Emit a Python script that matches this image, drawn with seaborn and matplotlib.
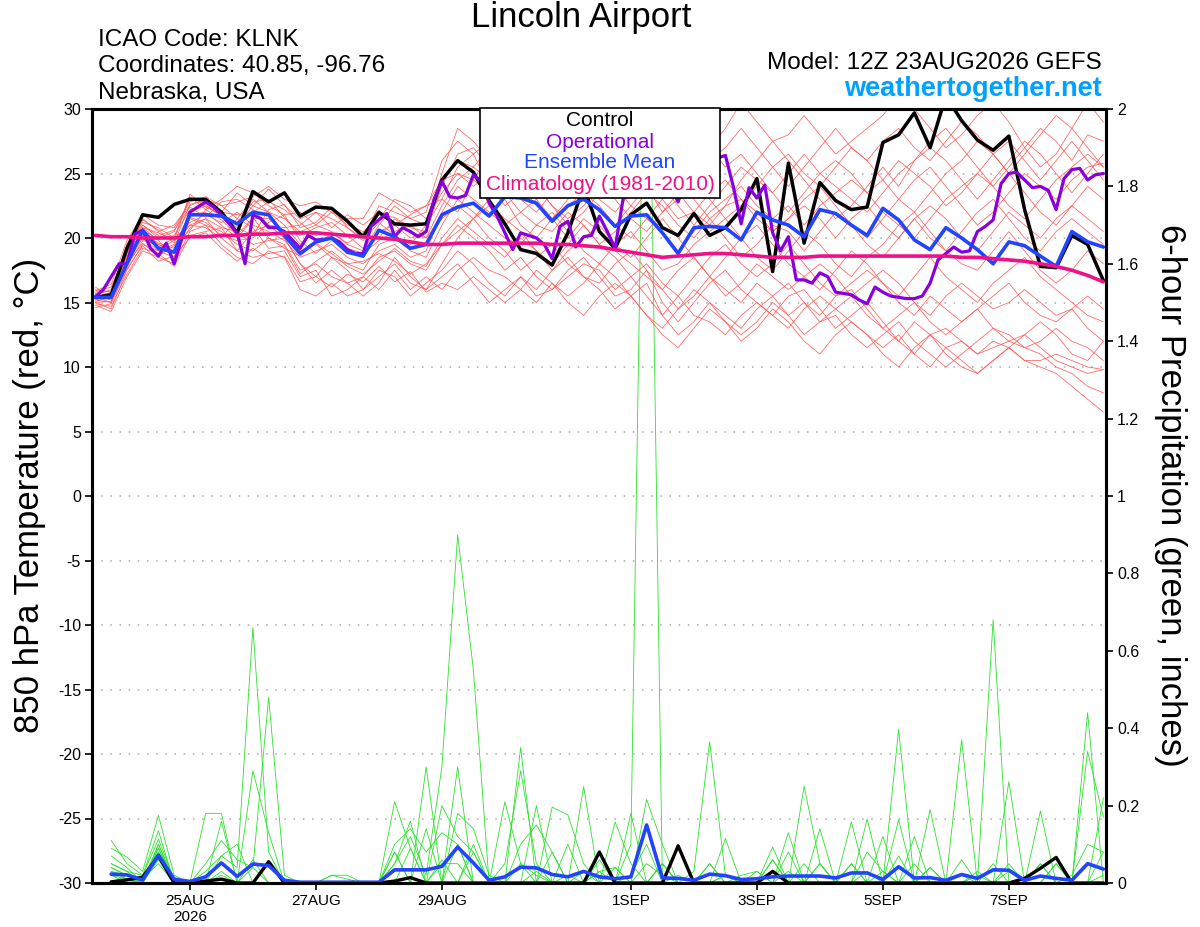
import numpy as np
import pandas as pd
import seaborn as sns
import matplotlib.pyplot as plt
from matplotlib.patches import Rectangle
from matplotlib.ticker import FuncFormatter

# forecast hours from 12Z 23AUG2026
hours = list(range(0, 385, 6))
oper_hours = list(range(0, 385, 3))
precip_hours = hours[1:]

date_ticks = [36, 84, 132, 204, 252, 300, 348]
date_labels = ['25AUG\n2026', '27AUG', '29AUG', '1SEP', '3SEP', '5SEP', '7SEP']

# 850 hPa temperature (C)
control_t = [15.4, 15.6, 19.2, 21.8, 21.6, 22.6, 23.0, 23.0, 22.0, 20.4,
             23.6, 22.8, 23.5, 21.7, 22.4, 22.3, 21.3, 20.1, 22.0, 21.1,
             21.0, 21.1, 24.5, 26.0, 25.1, 22.9, 21.1, 19.1, 18.8, 17.9,
             20.4, 24.0, 20.5, 19.2, 21.8, 22.7, 20.8, 20.2, 21.9, 20.2,
             20.8, 22.2, 24.6, 17.4, 25.8, 19.6, 24.3, 22.9, 22.2, 22.4,
             27.4, 28.0, 29.7, 27.0, 31.0, 29.1, 27.6, 26.8, 27.9, 22.2,
             17.8, 17.7, 20.2, 19.5, 16.7]

oper_t = [15.45, 16.0, 17.0, 18.0, 18.0, 20.3, 20.6, 19.2, 18.6, 19.6,
          18.0, 20.0, 22.0, 22.4, 22.8, 22.4, 21.8, 21.1, 20.4, 18.0,
          21.8, 21.5, 20.8, 20.8, 20.5, 19.85, 19.2, 20.2, 19.85, 19.9,
          20.0, 19.7, 19.1, 18.8, 18.8, 20.9, 21.4, 21.9, 20.1, 20.8,
          20.5, 20.1, 20.5, 23.0, 24.4, 23.2, 23.1, 23.3, 24.9, 24.4,
          22.7, 21.7, 20.4, 19.1, 20.4, 20.2, 20.0, 19.5, 18.4, 20.9,
          21.3, 19.3, 20.1, 20.2, 21.7, 20.5, 19.2, 23.0, 24.5, 25.5,
          25.0, 25.5, 24.5, 24.0, 22.8, 24.5, 25.5, 26.0, 26.2, 26.2,
          26.4, 24.0, 21.1, 23.9, 23.1, 24.1, 20.4, 19.0, 20.1, 16.75,
          16.75, 16.5, 17.3, 17.0, 15.8, 15.7, 15.6, 15.2, 14.9, 16.2,
          15.8, 15.5, 15.4, 15.3, 15.3, 15.5, 16.5, 18.3, 18.8, 19.3,
          18.9, 19.0, 20.5, 20.9, 21.4, 24.2, 25.0, 25.1, 24.5, 23.9,
          24.0, 23.7, 22.2, 24.6, 25.3, 25.4, 24.5, 24.9, 25.0]

mean_t = [15.4, 15.4, 18.0, 20.6, 19.2, 18.9, 21.8, 21.8, 21.7, 21.1,
          22.0, 21.8, 20.2, 18.8, 19.7, 20.0, 18.9, 18.6, 20.6, 20.1,
          19.2, 19.5, 21.8, 22.4, 22.7, 21.7, 23.2, 23.1, 22.7, 21.3,
          22.5, 23.0, 22.2, 20.9, 21.7, 21.8, 20.4, 18.8, 20.8, 20.9,
          20.8, 19.85, 22.0, 21.4, 21.0, 20.1, 22.2, 21.9, 21.0, 20.2,
          22.3, 21.4, 19.85, 19.1, 20.8, 20.0, 19.1, 18.0, 19.7, 19.4,
          18.6, 17.8, 20.5, 19.7, 19.3]

clim_t = [20.2, 20.1, 20.1, 20.0, 20.0, 20.0, 20.1, 20.1, 20.2, 20.2,
          20.3, 20.3, 20.4, 20.4, 20.4, 20.3, 20.2, 20.1, 20.0, 19.9,
          19.7, 19.5, 19.5, 19.6, 19.6, 19.6, 19.6, 19.6, 19.6, 19.5,
          19.5, 19.4, 19.3, 19.1, 18.9, 18.7, 18.5, 18.6, 18.7, 18.8,
          18.8, 18.7, 18.6, 18.5, 18.5, 18.5, 18.6, 18.6, 18.6, 18.6,
          18.6, 18.6, 18.6, 18.6, 18.6, 18.5, 18.5, 18.4, 18.3, 18.2,
          18.0, 17.8, 17.5, 17.1, 16.6]

members_t = [
    [15.2, 15.0, 18.5, 20.5, 19.5, 19.0, 22.0, 22.5, 21.8, 21.0,
     22.5, 22.0, 21.0, 19.5, 20.5, 20.0, 19.0, 18.5, 20.5, 21.0,
     20.0, 20.5, 24.0, 26.5, 27.0, 25.5, 23.0, 21.0, 20.0, 21.5,
     22.5, 23.5, 22.0, 21.0, 22.5, 24.0, 23.0, 21.5, 22.0, 23.5,
     24.5, 23.0, 22.0, 20.5, 21.5, 23.0, 24.0, 22.5, 21.0, 20.0,
     21.5, 23.0, 24.5, 25.5, 24.0, 22.5, 21.0, 22.0, 23.5, 25.0,
     24.0, 23.0, 24.5, 25.5, 25.8],
    [15.8, 16.2, 19.0, 21.0, 20.0, 20.5, 23.0, 22.8, 22.0, 23.5,
     22.5, 23.8, 22.5, 21.5, 22.0, 21.5, 20.8, 20.0, 22.5, 22.0,
     21.5, 21.0, 25.0, 28.5, 27.5, 26.0, 27.0, 25.5, 24.5, 26.0,
     27.5, 28.5, 27.0, 25.0, 26.0, 27.5, 29.0, 28.0, 26.5, 27.0,
     28.5, 30.5, 29.0, 27.5, 28.0, 29.5, 28.0, 26.5, 27.5, 28.5,
     29.5, 31.0, 30.0, 28.5, 27.0, 28.0, 29.5, 30.5, 29.0, 27.0,
     25.5, 26.5, 28.5, 30.5, 29.0],
    [15.0, 14.5, 17.5, 19.5, 19.0, 18.5, 21.5, 21.0, 20.5, 19.5,
     19.0, 20.0, 19.5, 17.5, 18.0, 17.0, 16.5, 17.0, 18.5, 19.0,
     18.0, 17.5, 19.5, 21.0, 20.0, 19.0, 17.5, 18.5, 17.0, 16.0,
     17.5, 18.5, 17.0, 15.5, 16.0, 17.5, 16.0, 14.5, 15.5, 17.0,
     16.0, 15.0, 16.5, 15.5, 14.0, 15.0, 13.5, 14.5, 15.5, 14.0,
     13.0, 12.0, 13.5, 12.5, 11.5, 12.0, 11.0, 12.0, 11.5, 10.5,
     10.0, 9.5, 8.5, 7.5, 6.5],
    [15.5, 15.2, 18.0, 20.0, 19.0, 19.5, 21.0, 21.5, 20.0, 19.0,
     20.5, 21.0, 20.0, 18.0, 17.0, 18.5, 17.5, 16.0, 17.0, 18.0,
     16.5, 16.0, 18.0, 20.0, 21.5, 20.0, 19.0, 17.5, 18.5, 19.5,
     18.0, 17.0, 16.5, 18.0, 19.0, 17.5, 15.0, 13.5, 15.0, 16.5,
     17.5, 16.0, 15.0, 14.0, 15.5, 16.0, 14.5, 13.0, 14.0, 15.0,
     13.5, 12.0, 11.0, 12.5, 13.0, 12.0, 11.0, 11.5, 12.0, 11.5,
     11.0, 10.0, 9.5, 8.5, 8.0],
    [16.0, 15.8, 19.5, 21.5, 20.5, 21.0, 22.5, 23.0, 22.5, 21.5,
     23.0, 22.0, 21.5, 20.5, 21.0, 20.5, 19.5, 19.0, 21.0, 22.5,
     21.5, 22.0, 26.0, 27.5, 26.5, 24.0, 22.5, 23.5, 24.0, 22.5,
     21.0, 22.0, 23.5, 24.5, 25.5, 24.0, 22.0, 23.0, 24.5, 23.0,
     21.5, 22.5, 24.0, 25.5, 26.5, 25.0, 24.0, 25.5, 27.0, 26.0,
     24.5, 23.0, 22.0, 23.5, 25.0, 26.0, 27.5, 26.5, 25.0, 23.5,
     22.0, 21.0, 22.5, 24.0, 23.0],
    [15.3, 15.6, 18.8, 20.8, 19.8, 18.5, 21.8, 22.0, 21.0, 20.0,
     21.5, 21.5, 20.5, 19.0, 19.5, 18.5, 18.0, 17.5, 19.5, 20.0,
     19.0, 18.5, 21.0, 23.0, 22.0, 21.0, 20.0, 19.5, 21.0, 22.0,
     20.5, 19.0, 18.0, 19.5, 20.5, 19.0, 17.5, 18.0, 19.5, 20.5,
     21.5, 20.0, 18.5, 17.5, 19.0, 20.5, 19.5, 18.0, 17.0, 18.5,
     19.5, 21.0, 22.0, 20.5, 19.0, 18.0, 17.5, 19.0, 20.5, 19.0,
     17.5, 16.5, 17.5, 19.0, 18.0],
    [14.8, 14.3, 17.0, 19.0, 18.5, 18.0, 20.5, 21.0, 19.5, 18.5,
     18.0, 19.0, 18.5, 16.0, 15.5, 16.5, 15.5, 16.0, 17.5, 17.0,
     15.5, 16.5, 17.5, 19.0, 18.0, 16.5, 15.5, 17.0, 16.0, 17.5,
     18.5, 17.0, 16.0, 14.5, 15.5, 16.5, 14.0, 12.5, 13.5, 15.0,
     14.0, 13.0, 14.5, 15.5, 16.5, 15.0, 14.0, 15.5, 16.0, 14.5,
     13.0, 14.0, 15.0, 13.5, 12.5, 13.5, 14.5, 13.0, 12.0, 12.5,
     13.5, 12.5, 11.0, 10.5, 12.0],
    [15.6, 16.0, 19.2, 21.2, 20.8, 20.0, 23.2, 22.2, 23.0, 24.0,
     23.5, 22.5, 21.8, 22.0, 21.0, 22.0, 21.0, 20.5, 21.5, 23.0,
     22.5, 21.5, 23.5, 25.0, 24.0, 25.0, 26.0, 24.5, 23.0, 24.5,
     25.5, 26.5, 28.0, 26.5, 25.0, 26.0, 27.5, 29.0, 27.5, 26.0,
     27.0, 28.5, 27.0, 25.5, 24.0, 25.5, 27.0, 28.5, 27.0, 26.0,
     27.5, 28.5, 27.0, 26.0, 27.5, 29.0, 28.0, 26.5, 25.0, 26.5,
     28.0, 29.5, 28.5, 27.0, 25.5],
    [15.1, 15.4, 18.2, 20.2, 19.2, 19.8, 21.2, 21.8, 21.2, 22.0,
     21.0, 20.5, 19.8, 18.5, 19.0, 19.5, 18.5, 18.0, 19.0, 19.5,
     18.5, 19.0, 22.0, 24.0, 23.0, 22.0, 21.0, 22.0, 23.0, 21.5,
     20.0, 21.5, 20.5, 19.0, 18.0, 17.0, 16.0, 17.5, 18.5, 17.0,
     15.5, 16.5, 18.0, 17.0, 16.0, 17.0, 18.0, 17.0, 15.5, 16.5,
     17.5, 16.5, 15.0, 14.0, 15.5, 16.5, 15.5, 14.5, 15.0, 16.0,
     15.0, 14.0, 14.5, 15.5, 14.5],
    [15.9, 16.4, 19.8, 21.8, 21.0, 20.8, 22.8, 23.2, 22.5, 22.8,
     23.2, 24.0, 23.0, 22.5, 22.8, 22.0, 21.5, 21.5, 23.5, 22.8,
     22.0, 22.5, 24.5, 26.0, 25.5, 27.0, 25.5, 26.0, 25.0, 24.0,
     25.5, 24.5, 23.0, 22.0, 23.5, 25.0, 24.0, 22.5, 21.0, 22.5,
     24.0, 25.5, 24.5, 23.5, 25.0, 26.5, 25.0, 24.0, 23.0, 22.0,
     23.5, 25.0, 26.0, 27.0, 26.0, 24.5, 23.0, 24.5, 26.0, 27.5,
     26.5, 25.0, 23.5, 25.0, 26.5],
    [15.4, 15.0, 17.8, 19.8, 19.5, 18.8, 20.8, 21.5, 20.8, 20.5,
     19.5, 19.8, 20.0, 18.0, 16.5, 17.5, 16.5, 15.5, 16.5, 18.5,
     17.0, 16.0, 17.0, 18.0, 16.5, 15.0, 16.0, 17.0, 15.5, 16.0,
     17.0, 18.0, 17.5, 16.0, 17.0, 18.0, 16.5, 15.5, 14.0, 13.5,
     12.5, 14.0, 15.0, 14.0, 13.0, 14.5, 15.5, 14.5, 13.5, 12.5,
     11.5, 12.5, 11.0, 10.0, 11.5, 10.5, 9.5, 10.5, 11.5, 10.5,
     10.5, 11.0, 10.5, 10.0, 9.8],
    [15.7, 15.9, 18.6, 20.6, 19.9, 20.2, 22.2, 22.6, 21.6, 21.2,
     22.8, 23.0, 21.6, 20.2, 20.8, 21.2, 20.2, 19.2, 20.0, 21.5,
     20.5, 20.0, 22.5, 24.5, 25.5, 24.5, 23.5, 22.0, 21.0, 20.5,
     22.0, 21.0, 19.5, 20.5, 22.0, 23.5, 22.5, 21.0, 20.0, 21.5,
     20.0, 18.5, 19.5, 21.0, 20.5, 19.0, 20.5, 22.0, 21.0, 19.5,
     18.5, 20.0, 21.5, 20.0, 19.0, 20.5, 22.0, 23.0, 21.5, 20.0,
     19.0, 20.5, 21.5, 20.5, 19.5],
    [15.2, 15.5, 18.4, 20.4, 19.6, 19.2, 21.6, 21.2, 20.2, 19.8,
     20.0, 21.2, 21.8, 19.8, 18.8, 19.8, 19.2, 18.8, 19.8, 20.5,
     21.0, 20.0, 21.5, 22.5, 21.5, 23.0, 24.0, 23.0, 22.0, 23.5,
     24.5, 23.5, 22.5, 21.0, 20.0, 21.5, 20.5, 19.0, 20.5, 22.0,
     23.0, 24.0, 22.5, 21.5, 22.5, 21.0, 22.5, 23.5, 24.5, 23.5,
     22.0, 21.0, 20.0, 21.5, 23.0, 24.0, 25.0, 24.0, 22.5, 21.5,
     23.0, 24.5, 25.5, 26.5, 25.5],
    [14.9, 14.7, 17.2, 19.2, 18.8, 17.8, 20.2, 20.5, 20.8, 19.0,
     18.5, 18.8, 19.0, 17.0, 17.5, 15.5, 16.0, 17.0, 16.0, 17.5,
     16.0, 17.0, 16.0, 17.5, 18.5, 17.5, 17.0, 16.0, 15.0, 16.5,
     15.5, 16.5, 18.0, 17.0, 15.5, 14.0, 13.0, 14.5, 16.0, 15.0,
     13.5, 12.5, 13.5, 15.0, 14.0, 12.5, 13.5, 14.0, 12.5, 11.5,
     12.5, 13.5, 12.0, 11.0, 10.0, 11.0, 12.0, 13.0, 12.5, 11.5,
     12.0, 13.0, 12.0, 11.5, 10.5],
    [15.5, 15.7, 19.0, 21.0, 20.2, 20.6, 22.4, 21.6, 22.8, 23.0,
     22.2, 21.0, 20.8, 21.0, 22.0, 20.8, 21.8, 21.0, 22.0, 21.0,
     21.8, 22.5, 23.0, 22.0, 24.5, 26.5, 25.0, 24.0, 25.5, 26.5,
     24.5, 23.0, 24.0, 25.5, 27.0, 26.0, 25.0, 26.5, 28.0, 27.0,
     25.5, 26.5, 25.0, 23.5, 22.0, 23.5, 25.0, 26.0, 25.0, 23.5,
     24.5, 26.0, 25.0, 24.0, 22.5, 23.5, 25.0, 26.5, 27.5, 26.0,
     24.5, 26.0, 27.5, 26.0, 24.5],
    [15.0, 15.1, 18.0, 19.6, 18.6, 19.4, 20.6, 22.2, 21.4, 20.2,
     21.6, 20.0, 19.2, 18.6, 19.6, 18.8, 17.8, 17.2, 18.2, 19.2,
     18.2, 17.8, 20.0, 21.5, 20.5, 19.5, 18.5, 20.0, 19.0, 17.5,
     19.0, 20.0, 21.0, 19.5, 18.5, 20.0, 21.5, 20.0, 18.5, 17.0,
     18.5, 20.0, 21.0, 19.5, 18.0, 17.0, 16.0, 17.5, 19.0, 18.0,
     16.5, 15.5, 17.0, 18.5, 17.0, 16.0, 15.0, 16.5, 17.5, 18.5,
     17.0, 16.0, 15.0, 14.0, 13.5],
    [16.2, 15.4, 18.8, 20.8, 20.4, 19.8, 23.4, 22.4, 21.8, 20.8,
     20.2, 22.2, 22.6, 20.8, 21.2, 22.4, 20.8, 19.8, 21.2, 20.2,
     19.5, 21.0, 23.0, 25.5, 26.5, 27.5, 26.0, 24.0, 22.5, 21.5,
     23.0, 24.5, 25.5, 24.0, 22.5, 21.5, 23.0, 24.5, 23.0, 21.5,
     22.5, 24.5, 26.0, 27.5, 26.0, 24.5, 23.0, 21.5, 22.5, 24.0,
     25.5, 24.0, 26.0, 27.5, 28.5, 27.0, 25.5, 24.0, 25.5, 27.0,
     28.5, 27.5, 26.0, 28.0, 27.5],
    [15.6, 15.3, 18.3, 20.0, 19.3, 20.0, 21.0, 20.8, 20.0, 21.5,
     20.8, 19.2, 19.4, 17.2, 18.2, 19.0, 18.0, 18.2, 18.8, 18.2,
     17.2, 18.0, 19.5, 20.5, 21.5, 22.5, 21.5, 20.5, 19.0, 18.0,
     19.5, 21.0, 19.5, 18.5, 17.0, 15.5, 14.0, 15.5, 17.0, 18.5,
     19.5, 18.0, 17.0, 18.0, 19.5, 18.0, 16.5, 15.5, 16.5, 17.5,
     16.5, 15.0, 14.0, 15.5, 14.5, 13.5, 14.5, 15.5, 16.5, 15.0,
     14.0, 13.5, 14.5, 13.0, 12.0],
    [15.3, 15.8, 18.9, 21.4, 20.6, 19.6, 22.6, 23.0, 22.0, 21.8,
     22.0, 22.8, 22.2, 21.2, 20.2, 20.4, 19.6, 20.4, 21.8, 21.6,
     20.8, 20.5, 24.5, 25.0, 24.5, 23.5, 24.5, 25.5, 24.0, 22.5,
     21.5, 22.5, 24.0, 23.0, 21.5, 20.5, 22.0, 23.5, 22.0, 21.0,
     22.5, 23.0, 21.5, 20.5, 21.5, 22.5, 21.5, 20.0, 21.5, 22.5,
     21.0, 20.0, 21.5, 22.5, 21.5, 20.0, 19.0, 20.5, 22.0, 21.0,
     20.0, 21.5, 22.5, 21.5, 20.5],
    [14.6, 14.9, 17.6, 19.4, 18.2, 18.6, 20.0, 20.4, 19.2, 18.2,
     19.2, 18.4, 18.6, 16.6, 17.0, 16.2, 17.2, 16.6, 17.8, 16.6,
     17.4, 15.8, 16.5, 16.0, 17.0, 16.0, 15.0, 16.0, 17.5, 16.5,
     15.0, 14.0, 15.5, 16.5, 15.5, 14.0, 12.5, 11.5, 13.0, 14.5,
     13.5, 12.0, 13.0, 14.5, 13.5, 12.0, 11.0, 12.5, 13.5, 12.5,
     11.0, 10.0, 11.5, 12.5, 11.0, 10.0, 9.5, 10.5, 11.5, 12.5,
     11.5, 10.5, 10.0, 9.5, 9.8],
]

# 6-hour precipitation (inches), hours 6..384
control_p = [0.003, 0.008, 0.015, 0.07, 0, 0, 0.005, 0.01,
             0, 0, 0.055, 0, 0, 0, 0, 0,
             0, 0, 0.005, 0.014, 0, 0, 0, 0,
             0, 0, 0, 0, 0, 0, 0, 0.08,
             0, 0, 0, 0, 0.096, 0, 0, 0,
             0, 0, 0.03, 0, 0, 0, 0, 0,
             0, 0, 0, 0, 0, 0, 0, 0,
             0, 0, 0.012, 0.038, 0.066, 0, 0, 0]

mean_p = [0.023, 0.021, 0.008, 0.072, 0.01, 0.004, 0.016, 0.052,
          0.017, 0.049, 0.045, 0.007, 0.002, 0.002, 0.002, 0.002,
          0.002, 0.002, 0.034, 0.034, 0.034, 0.043, 0.093, 0.052,
          0.007, 0.016, 0.041, 0.039, 0.022, 0.016, 0.03, 0.016,
          0.011, 0.016, 0.15, 0.013, 0.012, 0.007, 0.023, 0.019,
          0.009, 0.011, 0.016, 0.018, 0.018, 0.018, 0.013, 0.026,
          0.026, 0.009, 0.042, 0.013, 0.014, 0.007, 0.022, 0.012,
          0.034, 0.033, 0.007, 0.018, 0.012, 0.007, 0.05, 0.036]

members_p = [
    [0.03, 0.02, 0, 0.08, 0, 0, 0, 0.02,
     0, 0.04, 0, 0, 0, 0, 0, 0,
     0, 0, 0.05, 0.12, 0.02, 0.3, 0.9, 0.55,
     0, 0, 0.05, 0.02, 0, 0, 0.03, 0,
     0, 0.02, 0.1, 0, 0, 0, 0, 0.02,
     0, 0, 0, 0.03, 0, 0, 0, 0.05,
     0, 0, 0.07, 0, 0, 0, 0.02, 0,
     0, 0.03, 0, 0, 0, 0.02, 0.1, 0.08],
    [0.05, 0.03, 0, 0.1, 0.01, 0, 0, 0.07,
     0.04, 0.66, 0.08, 0, 0, 0, 0, 0,
     0, 0, 0.1, 0.14, 0.08, 0.13, 0.1, 0,
     0, 0.05, 0.29, 0.05, 0, 0.02, 0, 0.03,
     0.04, 0, 0.05, 0.02, 0, 0, 0.05, 0,
     0, 0, 0.06, 0, 0, 0.05, 0, 0,
     0.08, 0.03, 0, 0, 0.04, 0, 0, 0,
     0.05, 0, 0, 0.05, 0, 0, 0, 0.02],
    [0.11, 0.05, 0.02, 0.135, 0, 0, 0.05, 0.11,
     0.06, 0.04, 0.48, 0.02, 0, 0, 0, 0,
     0, 0, 0.21, 0.09, 0, 0.2, 0.12, 0.08,
     0, 0, 0.1, 0.15, 0.08, 0, 0, 0,
     0.158, 0.05, 0, 0, 0.02, 0, 0, 0,
     0.02, 0.03, 0, 0.13, 0, 0, 0, 0,
     0, 0, 0, 0.12, 0, 0, 0.06, 0,
     0, 0, 0, 0, 0.05, 0, 0.34, 0.17],
    [0.02, 0.01, 0, 0.07, 0, 0, 0, 0,
     0, 0, 0, 0, 0, 0, 0, 0,
     0, 0, 0.05, 0.16, 0, 0, 0.18, 0.14,
     0.02, 0, 0, 0, 0.196, 0.176, 0.05, 0,
     0, 0.1, 2.7, 0, 0, 0, 0, 0,
     0, 0, 0, 0, 0.25, 0.05, 0, 0,
     0, 0, 0.163, 0, 0, 0, 0, 0,
     0, 0, 0, 0.186, 0, 0, 0, 0],
    [0.09, 0.067, 0.03, 0.175, 0.02, 0, 0, 0.16,
     0, 0.06, 0, 0, 0, 0, 0, 0,
     0, 0, 0, 0, 0.3, 0, 0.3, 0,
     0, 0.21, 0.05, 0, 0, 0, 0.249, 0,
     0, 0, 0.216, 0.1, 0, 0.03, 0.365, 0.02,
     0, 0, 0, 0, 0, 0, 0, 0.158,
     0, 0, 0, 0, 0.19, 0, 0, 0,
     0, 0.05, 0, 0, 0, 0, 0, 0.22],
    [0.05, 0.03, 0.02, 0.113, 0.01, 0, 0, 0,
     0, 0.29, 0.13, 0, 0, 0, 0, 0,
     0, 0, 0, 0, 0.14, 0, 0, 0.1,
     0, 0, 0.35, 0, 0, 0.1, 0, 0,
     0, 0.18, 0, 0, 0.1, 0, 0, 0.115,
     0, 0, 0, 0, 0, 0, 0, 0,
     0.165, 0, 0, 0, 0, 0, 0.37, 0,
     0.68, 0, 0, 0, 0, 0, 0, 0],
    [0, 0.02, 0, 0.1, 0, 0, 0, 0,
     0, 0, 0.05, 0, 0, 0, 0, 0,
     0, 0, 0.08, 0, 0, 0, 0.1, 0,
     0, 0, 0, 0.2, 0, 0, 0, 0.06,
     0, 0, 0, 0.05, 0, 0, 0, 0,
     0, 0, 0.093, 0, 0, 0.14, 0, 0,
     0, 0, 0.397, 0, 0, 0, 0, 0,
     0, 0.262, 0, 0, 0, 0, 0.44, 0],
    [0.04, 0.02, 0, 0.09, 0, 0, 0.18, 0.18,
     0, 0, 0, 0, 0, 0, 0.02, 0.02,
     0, 0, 0, 0, 0, 0, 0, 0,
     0, 0, 0, 0, 0, 0, 0, 0,
     0, 0, 0, 0, 0, 0, 0, 0,
     0, 0, 0, 0.08, 0, 0, 0, 0,
     0, 0, 0, 0.05, 0, 0, 0, 0,
     0, 0, 0, 0.05, 0, 0, 0, 0],
    [0.07, 0.04, 0, 0.08, 0, 0, 0.03, 0.07,
     0.1, 0, 0, 0, 0, 0, 0, 0,
     0, 0, 0.08, 0, 0, 0, 0, 0,
     0, 0, 0, 0, 0.08, 0, 0, 0,
     0.04, 0, 0, 0.05, 0, 0, 0, 0,
     0, 0.03, 0, 0, 0, 0, 0, 0,
     0, 0.12, 0, 0, 0, 0, 0, 0,
     0, 0, 0, 0, 0, 0, 0, 0.08],
    [0, 0, 0.01, 0.05, 0, 0, 0, 0,
     0, 0, 0, 0, 0, 0, 0, 0,
     0, 0, 0, 0.09, 0, 0, 0, 0.08,
     0, 0, 0, 0, 0, 0, 0, 0,
     0, 0, 0, 0, 0, 0, 0, 0,
     0, 0, 0.06, 0, 0, 0, 0, 0.05,
     0, 0.03, 0, 0, 0, 0, 0, 0,
     0, 0, 0, 0, 0.05, 0, 0, 0],
    [0.03, 0.01, 0, 0.06, 0, 0, 0, 0,
     0, 0, 0, 0, 0, 0, 0, 0,
     0, 0, 0, 0, 0, 0.05, 0.05, 0,
     0, 0, 0, 0, 0, 0, 0, 0.03,
     0, 0, 0, 0, 0, 0, 0.05, 0,
     0, 0, 0, 0, 0, 0, 0, 0,
     0, 0, 0, 0, 0, 0, 0, 0.03,
     0, 0, 0, 0, 0, 0, 0, 0],
    [0, 0, 0, 0, 0, 0, 0, 0,
     0, 0, 0, 0, 0, 0, 0.02, 0.01,
     0, 0, 0, 0, 0, 0, 0, 0,
     0, 0, 0, 0, 0, 0, 0, 0,
     0, 0, 0, 0, 0, 0, 0, 0,
     0, 0, 0, 0, 0, 0.05, 0, 0,
     0, 0, 0, 0, 0.04, 0, 0, 0,
     0, 0, 0, 0, 0, 0, 0, 0],
    [0.02, 0, 0, 0.07, 0, 0, 0, 0,
     0, 0, 0, 0, 0, 0, 0, 0,
     0, 0, 0, 0, 0, 0.06, 0, 0,
     0, 0, 0, 0, 0, 0, 0, 0,
     0, 0, 0, 0, 0, 0, 0, 0.02,
     0, 0, 0, 0, 0.05, 0, 0, 0,
     0, 0, 0, 0, 0, 0, 0, 0,
     0, 0, 0, 0, 0, 0, 0, 0],
    [0.04, 0.02, 0, 0.09, 0, 0, 0, 0.03,
     0, 0, 0, 0, 0, 0, 0, 0,
     0, 0, 0, 0, 0, 0, 0, 0,
     0, 0, 0, 0.03, 0, 0, 0, 0,
     0, 0, 0, 0.05, 0, 0, 0, 0,
     0, 0, 0, 0, 0, 0, 0, 0,
     0.03, 0, 0, 0, 0, 0, 0, 0.02,
     0, 0, 0, 0, 0, 0, 0, 0],
]

temp_df = pd.DataFrame(
    [(m, h, v) for m, row in enumerate(members_t) for h, v in zip(hours, row)],
    columns=['member', 'hour', 'temp'])
precip_df = pd.DataFrame(
    [(m, h, v) for m, row in enumerate(members_p) for h, v in zip(precip_hours, row)],
    columns=['member', 'hour', 'precip'])

sns.set_theme(style='white')
plt.rcParams['font.family'] = ['Liberation Sans', 'DejaVu Sans']
plt.rcParams['axes.unicode_minus'] = False
plt.rcParams['text.color'] = 'black'
plt.rcParams['xtick.color'] = 'black'
plt.rcParams['ytick.color'] = 'black'

fig = plt.figure(figsize=(12, 9.27), dpi=100)
ax = fig.add_axes([92 / 1200, 1 - 883 / 927, 1014 / 1200, 774 / 927])
ax2 = ax.twinx()
ax.set_zorder(ax2.get_zorder() + 1)
ax.patch.set_visible(False)

# precipitation (right axis)
sns.lineplot(data=precip_df, x='hour', y='precip', units='member', estimator=None,
             color='#2ee02e', lw=0.6, ax=ax2, legend=False)
sns.lineplot(x=precip_hours, y=control_p, color='black', lw=2.4, ax=ax2)
sns.lineplot(x=precip_hours, y=mean_p, color='#2244ff', lw=2.6, ax=ax2)

# temperature (left axis)
sns.lineplot(data=temp_df, x='hour', y='temp', units='member', estimator=None,
             color='#ff5050', lw=0.55, alpha=0.9, ax=ax, legend=False)
sns.lineplot(x=hours, y=control_t, color='black', lw=2.5, ax=ax)
sns.lineplot(x=oper_hours, y=oper_t, color='#8800dd', lw=2.3, ax=ax)
sns.lineplot(x=hours, y=mean_t, color='#2244ff', lw=2.6, ax=ax)
sns.lineplot(x=hours, y=clim_t, color='#ee1188', lw=2.6, ax=ax)

ax.set_xlim(-1.3, 385)
ax.set_ylim(-30, 30)
ax2.set_ylim(0, 2)
ax.set_yticks(range(-30, 31, 5))
ax2.set_yticks(np.arange(0, 2.01, 0.2))
ax2.yaxis.set_major_formatter(FuncFormatter(lambda v, p: '%g' % round(v, 1)))
ax.set_xticks(date_ticks)
ax.set_xticklabels(date_labels)
ax.set_xlabel('')
ax.set_ylabel('')
ax2.set_ylabel('')
ax.yaxis.grid(True, linestyle=(0, (1, 5)), color='#aaaaaa', lw=1.1)
ax.xaxis.grid(False)
ax2.grid(False)

for a in (ax, ax2):
    for s in a.spines.values():
        s.set_linewidth(2.2)
        s.set_color('black')
ax.tick_params(axis='x', which='major', direction='out', length=5, width=1.2,
               color='black', labelsize=11, bottom=True, pad=3)
ax.tick_params(axis='y', which='major', direction='out', length=5, width=1.2,
               color='black', labelsize=11.5, left=True, pad=3)
ax2.tick_params(axis='y', direction='out', length=5, width=1.2, color='black',
                labelsize=11.5, right=True, pad=3)

# legend box
fig.patches.append(Rectangle((480 / 1200, 1 - 198 / 927), 240 / 1200, 90 / 927,
                             transform=fig.transFigure, facecolor='white',
                             edgecolor='black', lw=1.2, zorder=10))
legend_items = [('Control', 'black', 121), ('Operational', '#8800dd', 142),
                ('Ensemble Mean', '#2244ff', 163), ('Climatology (1981-2010)', '#ee1188', 185)]
for txt, col, yp in legend_items:
    fig.text(600 / 1200, 1 - yp / 927, txt, color=col, ha='center', va='center',
             fontsize=15, zorder=11)

fig.text(581 / 1200, 1 - 18 / 927, 'Lincoln Airport', ha='center', va='center', fontsize=25)
fig.text(98 / 1200, 1 - 40 / 927, 'ICAO Code: KLNK', ha='left', va='center', fontsize=17.5)
fig.text(98 / 1200, 1 - 66 / 927, 'Coordinates: 40.85, -96.76', ha='left', va='center', fontsize=17.5)
fig.text(98 / 1200, 1 - 93 / 927, 'Nebraska, USA', ha='left', va='center', fontsize=17.5)
fig.text(1102 / 1200, 1 - 63 / 927, 'Model: 12Z 23AUG2026 GEFS', ha='right', va='center', fontsize=17.5)
fig.text(1102 / 1200, 1 - 89 / 927, 'weathertogether.net', ha='right', va='center',
         fontsize=19.5, fontweight='bold', color='#00a2ff')
fig.text(30 / 1200, 1 - 495 / 927, '850 hPa Temperature (red, \u00b0C)', rotation=90,
         ha='center', va='center', fontsize=25)
fig.text(1170 / 1200, 1 - 495 / 927, '6-hour Precipitation (green, inches)', rotation=270,
         ha='center', va='center', fontsize=25)

fig.savefig('out.png', dpi=100)
